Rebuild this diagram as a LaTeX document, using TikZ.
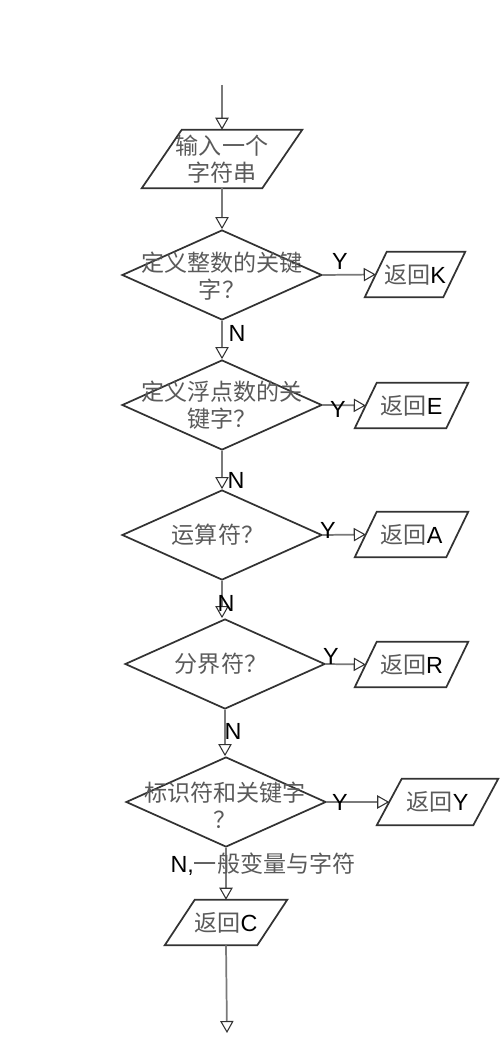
\documentclass[tikz,border=0pt]{standalone}
\usepackage{fontspec}
\setmainfont{Liberation Sans}
\newfontfamily\cjk{Noto Sans CJK SC}
\usetikzlibrary{shapes.geometric,arrows.meta}
\definecolor{shapegray}{HTML}{333333}
\definecolor{conngray}{HTML}{7A7A7A}
\definecolor{textgray}{HTML}{5A5A5A}
\newcommand\zh[1]{{\cjk\fontsize{17.3pt}{20.3pt}\selectfont\color{textgray}#1}}
% \ioshape{name}{skew}: draws a parallelogram around a rectangular node
\newcommand\ioshape[2]{%
  \draw[outline] ([xshift=-#2/2]#1.south west) -- ([xshift=#2/2]#1.north west)
    -- ([xshift=#2/2]#1.north east) -- ([xshift=-#2/2]#1.south east) -- cycle;}
\begin{document}
\begin{tikzpicture}[x=0.75pt,y=-0.75pt,
  conn/.style={draw=conngray, line width=1.3pt,
    -{Triangle[open,length=9pt,width=10pt,line width=0.8pt,color=shapegray]}},
  outline/.style={draw=shapegray, line width=1.3pt, line join=miter},
  decision/.style={diamond, draw=shapegray, line width=1.3pt,
    minimum width=150pt, minimum height=67.5pt, inner sep=0pt},
  iobox/.style={rectangle, inner sep=0pt, minimum height=33.75pt,
    font=\fontsize{17.5pt}{20.3pt}\selectfont, align=center},
  txt/.style={font=\fontsize{17.5pt}{20.3pt}\selectfont, align=center, text=black, inner sep=0pt},
  lbl/.style={font=\fontsize{17.5pt}{19pt}\selectfont, text=black, inner sep=0pt}
]
\useasboundingbox (0,0) rectangle (502,1059);

% start / end coordinates
\coordinate (start) at (222,85);
\coordinate (finish) at (227,1033);

% input
\node[iobox, minimum width=90pt, minimum height=43.5pt] (in) at (222,159) {\zh{输入一个}\\\zh{字符串}};
\ioshape{in}{30pt}

% decisions
\node[decision] (d1) at (222,275) {};
\node[txt] at (222,276) {\zh{定义整数的关键}\\\zh{字？}};
\node[decision] (d2) at (222,405) {};
\node[txt] at (222,405) {\zh{定义浮点数的关}\\\zh{键字？}};
\node[decision] (d3) at (222,535) {};
\node[txt] at (218,535) {\zh{运算符？}};
\node[decision] (d4) at (225,664) {};
\node[txt] at (221,664) {\zh{分界符？}};
\node[decision] (d5) at (226,802) {};
\node[txt] at (225,805) {\zh{标识符和关键字}\\\zh{？}};

% outputs
\node[iobox, minimum width=58.5pt] (rK) at (415,274.5) {\zh{返回}K};
\ioshape{rK}{16.5pt}
\node[iobox, minimum width=68.25pt] (rE) at (411.5,405.5) {\zh{返回}E};
\ioshape{rE}{16.5pt}
\node[iobox, minimum width=68.25pt] (rA) at (411.5,534.5) {\zh{返回}A};
\ioshape{rA}{16.5pt}
\node[iobox, minimum width=68.25pt] (rR) at (411.5,664.5) {\zh{返回}R};
\ioshape{rR}{16.5pt}
\node[iobox, minimum width=72pt, minimum height=34.5pt] (rY) at (437.5,802) {\zh{返回}Y};
\ioshape{rY}{18.75pt}
\node[iobox, minimum width=69pt] (rC) at (226,922.5) {\zh{返回}C};
\ioshape{rC}{22.5pt}

% main flow
\draw[conn] (start) -- (in.north);
\draw[conn] (in.south) -- (d1.north);
\draw[conn] (d1.south) -- (d2.north);
\draw[conn] (d2.south) -- (d3.north);
\draw[conn] (d3.south) -- (d3.south |- d4.north);
\draw[conn] (d4.south) -- (d4.south |- d5.north);
\draw[conn] (d5.south) -- (d5.south |- rC.north);
\draw[conn] (rC.south) -- (finish);

% yes branches
\draw[conn] (d1.east) -- (rK.west);
\draw[conn] (d2.east) -- (rE.west);
\draw[conn] (d3.east) -- (rA.west);
\draw[conn] (d4.east) -- (rR.west);
\draw[conn] (d5.east) -- (rY.west);

% labels
\node[lbl] (y1) at (340,261) {Y};
\node[lbl] (y2) at (338,409) {Y};
\node[lbl] (y3) at (328,530) {Y};
\node[lbl] (y4) at (331,656) {Y};
\node[lbl] (y5) at (340,802) {Y};
\node[lbl] (n1) at (237,333) {N};
\node[lbl] (n2) at (236,480) {N};
\node[lbl] (n3) at (226,603) {N};
\node[lbl] (n4) at (233,731) {N};
\node[lbl] (n5) at (263,864) {N,\zh{一般变量与字符}};
\end{tikzpicture}
\end{document}
